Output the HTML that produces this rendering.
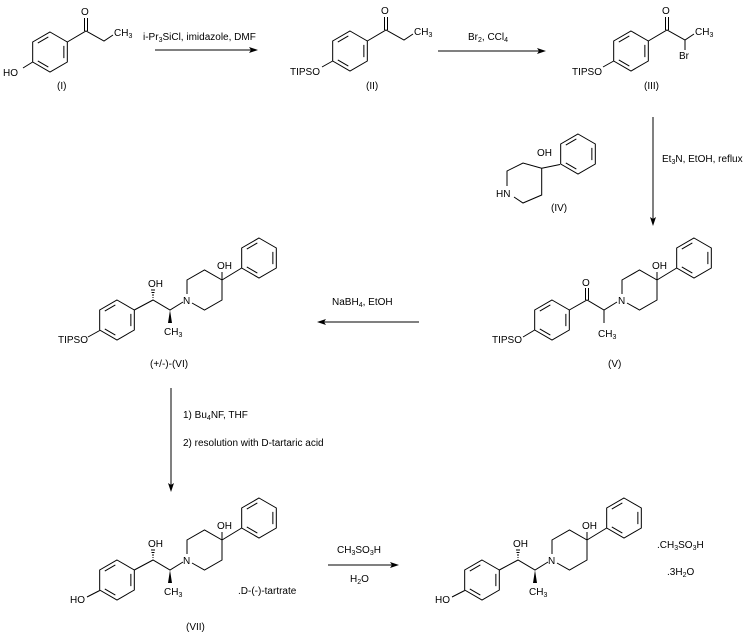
<!DOCTYPE html>
<html><head><meta charset="utf-8"><style>
html,body{margin:0;padding:0;background:#fff;}
svg{display:block;}
text{font-family:"Liberation Sans",Arial,sans-serif;font-size:10px;fill:#000;}
.s{font-size:7px;}
</style></head><body>
<svg width="747" height="635" viewBox="0 0 747 635" xmlns="http://www.w3.org/2000/svg">
<defs>
<g id="ring" fill="none" stroke="#000" stroke-width="1">
<path d="M0,-20 L17.32,-10 L17.32,10 L0,20 L-17.32,10 L-17.32,-10 Z"/>
<path d="M-12.2,-8.96 L-1.66,-15.04 M13.86,-6.08 L13.86,6.08 M-1.66,15.04 L-12.2,8.96"/>
</g>
<g id="pip">
<g fill="none" stroke="#000" stroke-width="1">
<path d="M0,-6 L0,-20 L17.5,-30 L35,-20 L35,0 L17.5,10 L5,3"/>
<path d="M35,-20 L35,-28 M35,-20 L54.7,-32"/>
</g>
<use href="#ring" transform="translate(72,-42)"/>
<text x="-4" y="4">N</text>
<text x="30" y="-31">OH</text>
</g>
<g id="amino">
<use href="#ring" transform="translate(-36,20)"/>
<g fill="none" stroke="#000" stroke-width="1">
<path d="M-18.7,10 L0,0 L17,10 L30,2"/>
<path d="M-0.5,-2.5 L0.5,-2.5 M-1,-5 L1,-5 M-1.5,-7.5 L1.5,-7.5 M-2,-10 L2,-10"/>
</g>
<polygon points="17,10 15,23 19,23" fill="#000"/>
<text x="-5" y="-13">OH</text>
<text x="11" y="35">CH<tspan class="s" dy="2">3</tspan></text>
<use href="#pip" transform="translate(34,0)"/>
</g>
</defs>

<!-- (I) -->
<use href="#ring" transform="translate(50,52)"/>
<g fill="none" stroke="#000" stroke-width="1">
<path d="M67.3,42 L86,31 L104,41 L113,35 M84.5,31 L84.5,18 M87.5,31 L87.5,18 M32.7,62 L23,68"/>
</g>
<text x="81" y="15">O</text>
<text x="114" y="36">CH<tspan class="s" dy="2">3</tspan></text>
<text x="3" y="76">HO</text>
<text x="57" y="89">(I)</text>

<!-- arrow 1 -->
<line x1="155" y1="50" x2="252" y2="50" stroke="#000"/>
<polygon points="258,50 249,47 251,50 249,53" fill="#000"/>
<text x="143" y="40">i-Pr<tspan class="s" dy="2">3</tspan><tspan dy="-2">SiCl, imidazole, DMF</tspan></text>

<!-- (II) -->
<use href="#ring" transform="translate(350,51)"/>
<g fill="none" stroke="#000" stroke-width="1">
<path d="M367.3,41 L386,30 L404,40 L413,34 M384.5,30 L384.5,17 M387.5,30 L387.5,17 M332.7,61 L322,67"/>
</g>
<text x="381" y="14">O</text>
<text x="414" y="35">CH<tspan class="s" dy="2">3</tspan></text>
<text x="290" y="75">TIPSO</text>
<text x="366" y="89">(II)</text>

<!-- arrow 2 -->
<line x1="438" y1="51" x2="540" y2="51" stroke="#000"/>
<polygon points="546,51 537,48 539,51 537,54" fill="#000"/>
<text x="468" y="40">Br<tspan class="s" dy="2">2</tspan><tspan dy="-2">, CCl</tspan><tspan class="s" dy="2">4</tspan></text>

<!-- (III) -->
<use href="#ring" transform="translate(631,51)"/>
<g fill="none" stroke="#000" stroke-width="1">
<path d="M648.3,41 L667,30 L685,40 L694,34 M665.5,30 L665.5,17 M668.5,30 L668.5,17 M613.7,61 L603,67 M685,40 L685,50"/>
</g>
<text x="662" y="14">O</text>
<text x="695" y="35">CH<tspan class="s" dy="2">3</tspan></text>
<text x="679" y="59">Br</text>
<text x="572" y="75">TIPSO</text>
<text x="644" y="89">(III)</text>

<!-- (IV) -->
<g fill="none" stroke="#000" stroke-width="1">
<path d="M507,186 L507,171 L523,163 L541.7,168.3 L541.7,195 L523,203 L514,197 M541.7,168.3 L560,164.5"/>
</g>
<use href="#ring" transform="translate(578,154)"/>
<text x="537" y="156">OH</text>
<text x="496" y="197">HN</text>
<text x="551" y="211">(IV)</text>

<!-- arrow III->V -->
<line x1="653" y1="117" x2="653" y2="220" stroke="#000"/>
<polygon points="653,226 650,217 653,219 656,217" fill="#000"/>
<text x="662" y="162">Et<tspan class="s" dy="2">3</tspan><tspan dy="-2">N, EtOH, reflux</tspan></text>

<!-- (V) -->
<use href="#ring" transform="translate(552,320)"/>
<g fill="none" stroke="#000" stroke-width="1">
<path d="M569.3,310 L587,300 L604,310 L617,302 M604,310 L604,323 M585.5,300 L585.5,288 M588.5,300 L588.5,288 M534.7,330 L523,337"/>
</g>
<text x="582" y="286">O</text>
<text x="598" y="337">CH<tspan class="s" dy="2">3</tspan></text>
<text x="492" y="343">TIPSO</text>
<use href="#pip" transform="translate(622,300)"/>
<text x="608" y="367">(V)</text>

<!-- arrow V->VI -->
<line x1="419" y1="322" x2="323" y2="322" stroke="#000"/>
<polygon points="317,322 326,319 324,322 326,325" fill="#000"/>
<text x="332" y="305">NaBH<tspan class="s" dy="2">4</tspan><tspan dy="-2">, EtOH</tspan></text>

<!-- (VI) -->
<use href="#amino" transform="translate(153,300)"/>
<line x1="99.7" y1="330.5" x2="88" y2="337" stroke="#000"/>
<text x="58" y="343">TIPSO</text>
<text x="150" y="367">(+/-)-(VI)</text>

<!-- arrow VI->VII -->
<line x1="171" y1="388" x2="171" y2="486" stroke="#000"/>
<polygon points="171,492 168,483 171,485 174,483" fill="#000"/>
<text x="183" y="418">1) Bu<tspan class="s" dy="2">4</tspan><tspan dy="-2">NF, THF</tspan></text>
<text x="183" y="446">2) resolution with D-tartaric acid</text>

<!-- (VII) -->
<use href="#amino" transform="translate(153,560)"/>
<line x1="99.7" y1="590.5" x2="87" y2="597" stroke="#000"/>
<text x="70" y="603">HO</text>
<text x="238" y="594">.D-(-)-tartrate</text>
<text x="186" y="630">(VII)</text>

<!-- arrow VII->final -->
<line x1="328" y1="565" x2="393" y2="565" stroke="#000"/>
<polygon points="399,565 390,562 392,565 390,568" fill="#000"/>
<text x="337" y="553">CH<tspan class="s" dy="2">3</tspan><tspan dy="-2">SO</tspan><tspan class="s" dy="2">3</tspan><tspan dy="-2">H</tspan></text>
<text x="350" y="582">H<tspan class="s" dy="2">2</tspan><tspan dy="-2">O</tspan></text>

<!-- final -->
<use href="#amino" transform="translate(518,560)"/>
<line x1="464.7" y1="590.5" x2="452" y2="597" stroke="#000"/>
<text x="435" y="603">HO</text>
<text x="657" y="548">.CH<tspan class="s" dy="2">3</tspan><tspan dy="-2">SO</tspan><tspan class="s" dy="2">3</tspan><tspan dy="-2">H</tspan></text>
<text x="667" y="575">.3H<tspan class="s" dy="2">2</tspan><tspan dy="-2">O</tspan></text>
</svg>
</body></html>
